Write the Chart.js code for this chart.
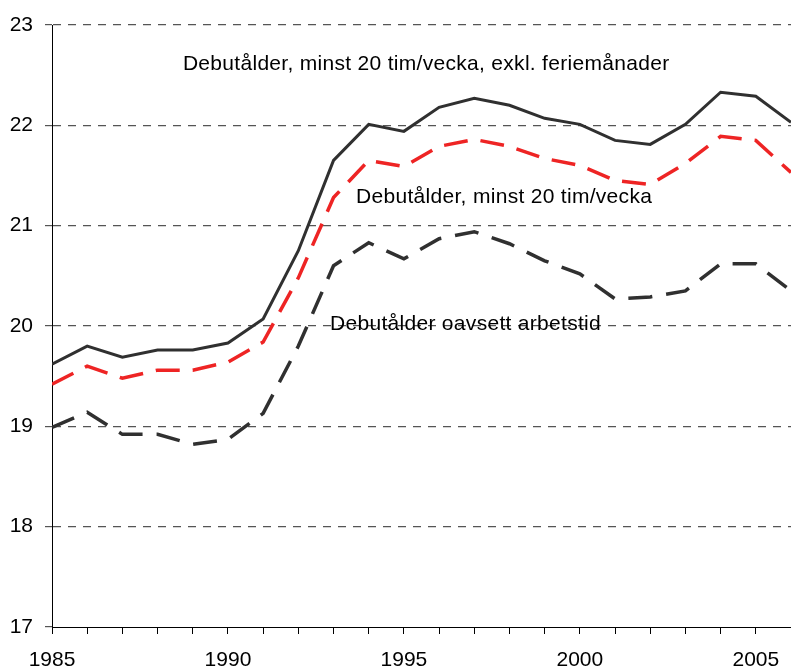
<!DOCTYPE html>
<html>
<head>
<meta charset="utf-8">
<script src="https://cdn.jsdelivr.net/npm/chart.js@4.4.1/dist/chart.umd.min.js"></script>
<style>
  html, body { margin: 0; padding: 0; background: #fff; }
  #wrap { width: 791px; height: 668px; position: relative; }
</style>
</head>
<body>
<div id="wrap"><canvas id="c"></canvas></div>
<script>
const years = [1985, 1986, 1987, 1988, 1989, 1990, 1991, 1992, 1993, 1994, 1995,
               1996, 1997, 1998, 1999, 2000, 2001, 2002, 2003, 2004, 2005, 2006];

// exkl. feriemånader (heldragen)
const exklFerie = [19.62, 19.80, 19.69, 19.76, 19.76, 19.83, 20.07, 20.75, 21.65, 22.01, 21.94,
                   22.18, 22.27, 22.20, 22.07, 22.01, 21.85, 21.81, 22.01, 22.33, 22.29, 22.03];
// minst 20 tim/vecka (röd streckad)
const minst20 = [19.42, 19.60, 19.48, 19.56, 19.56, 19.64, 19.84, 20.48, 21.28, 21.65, 21.59,
                 21.79, 21.86, 21.79, 21.67, 21.60, 21.45, 21.41, 21.62, 21.89, 21.85, 21.53];
// oavsett arbetstid (svart streckad)
const oavsett = [18.99, 19.14, 18.92, 18.92, 18.82, 18.87, 19.13, 19.80, 20.60, 20.83, 20.67,
                 20.87, 20.94, 20.82, 20.65, 20.52, 20.27, 20.29, 20.35, 20.62, 20.62, 20.35];

const yTicks = [17, 18, 19, 20, 21, 22, 23];

const labels = [
  { text: 'Debutålder, minst 20 tim/vecka, exkl. feriemånader', x: 1988.72, y: 22.61 },
  { text: 'Debutålder, minst 20 tim/vecka', x: 1993.64, y: 21.28 },
  { text: 'Debutålder oavsett arbetstid', x: 1992.9, y: 20.02 }
];

const pts = arr => arr.map((v, i) => ({ x: years[i], y: v }));

const textPlugin = {
  id: 'lineLabels',
  afterDatasetsDraw(chart) {
    const ctx = chart.ctx;
    const xs = chart.scales.x, ys = chart.scales.y;
    ctx.save();
    ctx.fillStyle = '#000';
    ctx.font = '21px "Liberation Sans", Arial, sans-serif';
    ctx.letterSpacing = '0.3px';
    ctx.textBaseline = 'middle';
    ctx.textAlign = 'left';
    labels.forEach(l => {
      ctx.fillText(l.text, xs.getPixelForValue(l.x), ys.getPixelForValue(l.y));
    });
    ctx.restore();
  }
};

new Chart(document.getElementById('c'), {
  type: 'line',
  data: {
    datasets: [
      {
        data: pts(exklFerie),
        borderColor: '#303030',
        borderWidth: 3,
        pointRadius: 0,
        tension: 0
      },
      {
        data: pts(minst20),
        borderColor: '#ee2424',
        borderWidth: 3.5,
        borderDash: [24, 13],
        pointRadius: 0,
        tension: 0
      },
      {
        data: pts(oavsett),
        borderColor: '#303030',
        borderWidth: 3.5,
        borderDash: [24, 14],
        pointRadius: 0,
        tension: 0
      }
    ]
  },
  options: {
    responsive: true,
    maintainAspectRatio: false,
    animation: false,
    layout: { padding: { top: 25, right: 0, left: 0, bottom: 0 } },
    plugins: { legend: { display: false }, tooltip: { enabled: false } },
    scales: {
      x: {
        type: 'linear',
        min: 1985,
        max: 2006,
        afterBuildTicks: s => { s.ticks = years.map(v => ({ value: v })); },
        afterFit: s => { s.height = 41; s.paddingLeft = 0; s.paddingRight = 0; },
        ticks: {
          autoSkip: false,
          maxRotation: 0,
          padding: 14,
          color: '#000',
          font: { family: '"Liberation Sans", Arial, sans-serif', size: 21 },
          callback: v => (v % 5 === 0 ? String(v) : '')
        },
        grid: {
          drawOnChartArea: false,
          drawTicks: true,
          tickLength: 7,
          tickColor: '#000',
          tickWidth: 1
        },
        border: { display: true, color: '#000', width: 1 }
      },
      y: {
        min: 17,
        max: 23,
        afterBuildTicks: s => { s.ticks = yTicks.map(v => ({ value: v })); },
        afterFit: s => { s.width = 52; s.paddingTop = 0; s.paddingBottom = 0; },
        ticks: {
          padding: 12,
          color: '#000',
          font: { family: '"Liberation Sans", Arial, sans-serif', size: 21 }
        },
        grid: {
          color: c => (c.tick && c.tick.value === 17 ? 'rgba(0,0,0,0)' : '#555'),
          lineWidth: 1.2,
          drawTicks: true,
          tickLength: 7,
          tickColor: '#555'
        },
        border: { display: true, color: '#000', width: 1, dash: [8, 7] }
      }
    }
  },
  plugins: [textPlugin]
});
</script>
</body>
</html>
